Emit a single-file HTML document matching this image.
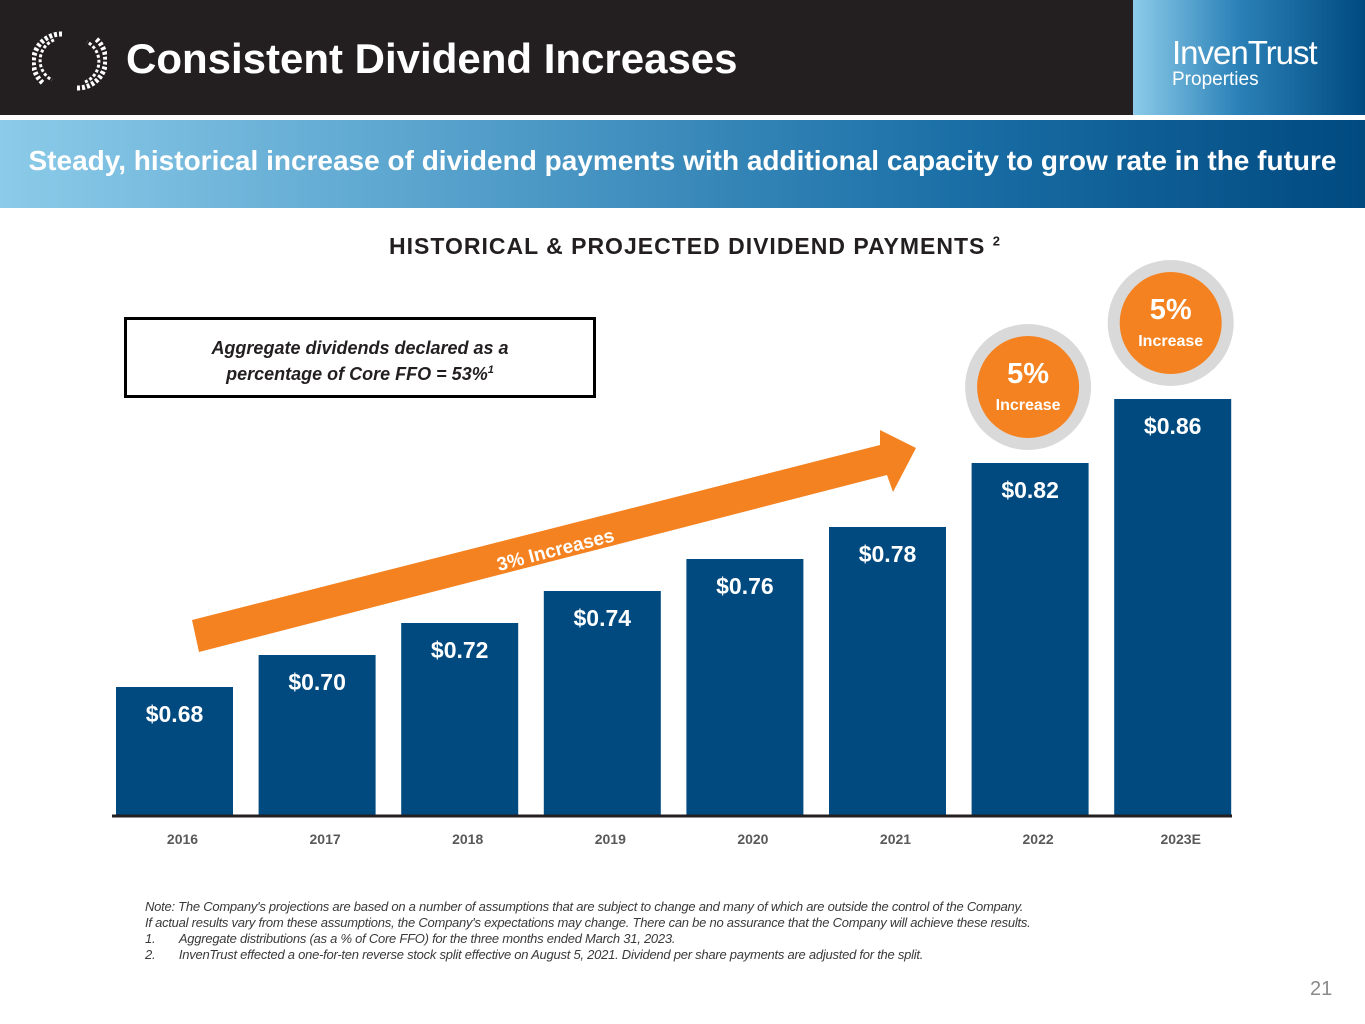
<!DOCTYPE html>
<html><head><meta charset="utf-8"><style>
body{margin:0;width:1365px;height:1024px;background:#fff;font-family:"Liberation Sans",sans-serif;position:relative;overflow:hidden}
.abs{position:absolute}
</style></head><body>
<div class="abs" style="left:0;top:0;width:1133px;height:115px;background:#231f20"></div>
<svg class="abs" style="left:32px;top:30px" width="75" height="62" viewBox="0 0 75 62">
<g fill="none" stroke="#fff" stroke-width="5" stroke-dasharray="3 2"><path d="M30 4 A28 28 0 0 0 12 54"/><path d="M45 58 A28 28 0 0 0 63 8"/><path d="M22 10 A22 22 0 0 0 20 50" stroke-width="3"/><path d="M53 52 A22 22 0 0 0 55 12" stroke-width="3"/></g></svg>
<div class="abs" style="left:126px;top:35px;color:#fff;font-size:42px;font-weight:bold;letter-spacing:0px">Consistent Dividend Increases</div>
<div class="abs" style="left:1133px;top:0;width:232px;height:115px;background:linear-gradient(90deg,#8ccbe9,#2b82b8 45%,#004a80)"></div>
<div class="abs" style="left:1172px;top:34px;color:#fff;font-size:33px;letter-spacing:-1px">InvenTrust</div>
<div class="abs" style="left:1172px;top:69px;color:#fff;font-size:19px">Properties</div>
<div class="abs" style="left:0;top:120px;width:1365px;height:88px;background:linear-gradient(90deg,#8ccbe9,#5ba5cf 30%,#1a6fa6 70%,#004a80)"></div>
<div class="abs" style="left:0;top:145px;width:1365px;text-align:center;color:#fff;font-size:28px;font-weight:bold;letter-spacing:0px;white-space:nowrap">Steady, historical increase of dividend payments with additional capacity to grow rate in the future</div>
<div class="abs" style="left:0;top:233px;width:1390px;text-align:center;color:#231f20;font-size:23px;font-weight:bold;letter-spacing:1px">HISTORICAL &amp; PROJECTED DIVIDEND PAYMENTS <sup style="font-size:13px">2</sup></div>
<div class="abs" style="left:124px;top:317px;width:466px;height:75px;border:3px solid #000;box-sizing:content-box;text-align:center;font-size:18px;font-weight:bold;font-style:italic;color:#231f20;line-height:22px;padding-top:0"><div style="margin-top:17px">Aggregate dividends declared as a<br>percentage of Core FFO = 53%<sup style="font-size:11px">1</sup></div></div>
<svg class="abs" id="chart" style="left:0;top:0" width="1365" height="1024"></svg>
<div class="abs" style="left:145px;top:899px;font-size:13px;font-style:italic;color:#3a3a3a;line-height:16px;letter-spacing:-0.25px;white-space:nowrap">Note: The Company's projections are based on a number of assumptions that are subject to change and many of which are outside the control of the Company.<br>If actual results vary from these assumptions, the Company's expectations may change. There can be no assurance that the Company will achieve these results.<br>1.&nbsp;&nbsp;&nbsp;&nbsp;&nbsp;&nbsp;&nbsp;Aggregate distributions (as a % of Core FFO) for the three months ended March 31, 2023.<br>2.&nbsp;&nbsp;&nbsp;&nbsp;&nbsp;&nbsp;&nbsp;InvenTrust effected a one-for-ten reverse stock split effective on August 5, 2021. Dividend per share payments are adjusted for the split.</div>
<div class="abs" style="left:1310px;top:978px;font-size:20px;color:#8a8a8a">21</div>
<script>
const categories=["2016","2017","2018","2019","2020","2021","2022","2023E"];
const values=[0.68,0.70,0.72,0.74,0.76,0.78,0.82,0.86];
const labels=["$0.68","$0.70","$0.72","$0.74","$0.76","$0.78","$0.82","$0.86"];
const badges=[{i:6,t:"5%"},{i:7,t:"5%"}];
const NS="http://www.w3.org/2000/svg";
const svg=document.getElementById('chart');
const base=815,vmin=0.6,scale=1600,x0=116,pitch=142.6,bw=117;
const y=v=>base-(v-vmin)*scale;
const x=i=>x0+i*pitch;
function mk(tag,attrs,txt){const e=document.createElementNS(NS,tag);for(const k in attrs)e.setAttribute(k,attrs[k]);if(txt!==undefined)e.textContent=txt;svg.appendChild(e);return e;}
values.forEach((v,i)=>{
 const r=mk('rect',{x:x(i),y:y(v),width:bw,height:base-y(v),fill:'#004a80'});
 
 
 const t=mk('text',{x:x(i)+bw/2,y:y(v)+35,'text-anchor':'middle',fill:'#fff','font-size':23,'font-weight':'bold'},labels[i]);
 
 
 const c=mk('text',{x:x(i)+bw/2+8,y:844,'text-anchor':'middle',fill:'#595959','font-size':14,'font-weight':'bold'},categories[i]);
 
 
});
const ax=mk('line',{x1:112,x2:1232,y1:base+1,y2:base+1,stroke:'#231f20','stroke-width':3});


const ar=mk('polygon',{points:'192,620 880,445 880,430 916,448 893,492 887,475 199,652',fill:'#f58220'});


const at=mk('text',{x:0,y:0,fill:'#fff','font-size':19,'font-weight':'bold','text-anchor':'middle',transform:'translate(557,556) rotate(-14.5)'},'3% Increases');


badges.forEach(b=>{
 const cx=x(b.i)+bw/2-2, cy=y(values[b.i])-76;
 const o=mk('circle',{cx:cx,cy:cy,r:63,fill:'#d9d9d9'});
 
 
 mk('circle',{cx:cx,cy:cy,r:51,fill:'#f58220'});
 const p=mk('text',{x:cx,y:cy-4,'text-anchor':'middle',fill:'#fff','font-size':29,'font-weight':'bold'},b.t);
 
 
 const s=mk('text',{x:cx,y:cy+23,'text-anchor':'middle',fill:'#fff','font-size':16,'font-weight':'bold'},'Increase');
 
 
});
</script>
</body></html>
